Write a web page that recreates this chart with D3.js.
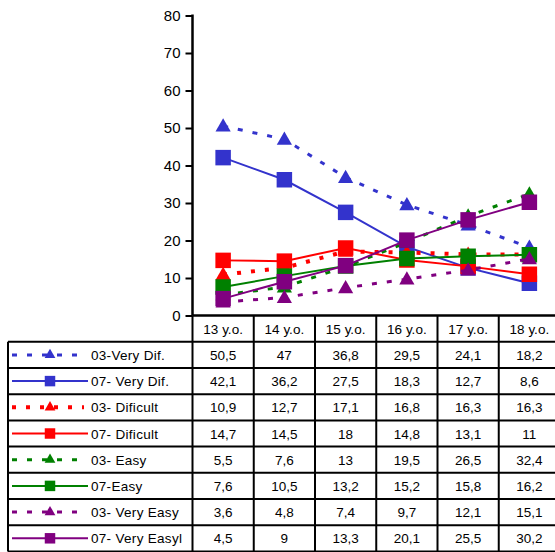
<!DOCTYPE html>
<html>
<head>
<meta charset="utf-8">
<script src="https://cdn.jsdelivr.net/npm/d3@7"></script>
<style>
  html, body { margin: 0; padding: 0; background: #fff; }
  svg { display: block; font-family: "Liberation Sans", Arial, sans-serif; }
</style>
</head>
<body>
<svg id="chart" width="555" height="552"></svg>
<script>
// Age groups along the x axis
const categories = ["13 y.o.", "14 y.o.", "15 y.o.", "16 y.o.", "17 y.o.", "18 y.o."];

// Percent of students per difficulty rating, survey 2003 vs 2007
const veryDif03  = [50.5, 47, 36.8, 29.5, 24.1, 18.2];
const veryDif07  = [42.1, 36.2, 27.5, 18.3, 12.7, 8.6];
const dificult03 = [10.9, 12.7, 17.1, 16.8, 16.3, 16.3];
const dificult07 = [14.7, 14.5, 18, 14.8, 13.1, 11];
const easy03     = [5.5, 7.6, 13, 19.5, 26.5, 32.4];
const easy07     = [7.6, 10.5, 13.2, 15.2, 15.8, 16.2];
const veryEasy03 = [3.6, 4.8, 7.4, 9.7, 12.1, 15.1];
const veryEasy07 = [4.5, 9, 13.3, 20.1, 25.5, 30.2];

const seriesNames = ["03-Very Dif.", "07- Very Dif.", "03- Dificult", "07- Dificult",
                     "03- Easy", "07-Easy", "03- Very Easy", "07- Very Easyl"];
const yTicks = [0, 10, 20, 30, 40, 50, 60, 70, 80];

const seriesValues = [veryDif03, veryDif07, dificult03, dificult07, easy03, easy07, veryEasy03, veryEasy07];
const seriesColors = ["#3333cc", "#3333cc", "#ff0000", "#ff0000", "#008000", "#008000", "#800080", "#800080"];
const seriesKind   = ["dash", "solid", "dot", "solid", "dash", "solid", "dash", "solid"];

const series = seriesNames.map((name, i) => ({
  name, values: seriesValues[i], color: seriesColors[i], kind: seriesKind[i],
  marker: seriesKind[i] === "solid" ? "square" : "triangle"
}));

const svg = d3.select("#chart");

const x = d3.scaleBand().domain(categories).range([192.5, 560]);
const y = d3.scaleLinear().domain([0, 80]).range([315.5, 15.5]);

function lineStyle(sel, kind) {
  if (kind === "solid") sel.attr("stroke-width", 2);
  else if (kind === "dash") sel.attr("stroke-width", 3).attr("stroke-dasharray", "5,10");
  else sel.attr("stroke-width", 4).attr("stroke-dasharray", "4,10");
}

const sym = {
  square: d3.symbol().type(d3.symbolSquare),
  triangle: d3.symbol().type(d3.symbolTriangle)
};

// Y axis
const yAxis = d3.axisLeft(y).tickValues(yTicks).tickSize(7).tickPadding(5);
const gy = svg.append("g").attr("transform", "translate(192.5,0)").call(yAxis);
gy.select(".domain").attr("stroke", "#000").attr("stroke-width", 2.5).attr("d", "M0,14.5V315.5");
gy.selectAll(".tick line").attr("stroke", "#000").attr("stroke-width", 2);
gy.selectAll(".tick text").attr("font-size", 15).attr("fill", "#000")
  .attr("font-family", "'Liberation Sans', Arial, sans-serif");

// Series lines and markers
const line = d3.line().x((d, i) => x(categories[i]) + x.bandwidth() / 2).y(d => y(d));
const gs = svg.append("g");
series.forEach(s => {
  const g = gs.append("g");
  g.append("path").attr("d", line(s.values)).attr("fill", "none").attr("stroke", s.color)
    .call(lineStyle, s.kind);
  g.selectAll("path.mk").data(s.values).join("path").attr("class", "mk")
    .attr("transform", (d, i) => `translate(${x(categories[i]) + x.bandwidth() / 2},${y(d) + (s.marker === "triangle" ? 1 : 0)})`)
    .attr("d", s.marker === "square" ? sym.square.size(240)() : sym.triangle.size(100)())
    .attr("fill", s.color);
});

// Data table below the plot
const rowTop = 315.5, headH = 26.3, rowH = 26.2;
const tableLeft = 8, tableRight = 560;
const tg = svg.append("g");
const rowY = i => rowTop + headH + i * rowH;

// header row labels
tg.selectAll("text.head").data(categories).join("text").attr("class", "head")
  .attr("x", d => x(d) + x.bandwidth() / 2).attr("y", rowTop + headH / 2 + 5)
  .attr("text-anchor", "middle").attr("font-size", 13.5).text(d => d);

// value cells
const fmt = v => String(v).replace(".", ",");
series.forEach((s, r) => {
  tg.selectAll(null).data(s.values).join("text")
    .attr("x", (d, i) => x(categories[i]) + x.bandwidth() / 2)
    .attr("y", rowY(r) + rowH / 2 + 5)
    .attr("text-anchor", "middle").attr("font-size", 13.5).text(d => fmt(d));

  // legend key: line sample, marker, name
  const ly = rowY(r) + rowH / 2;
  const lg = tg.append("g");
  lg.append("line").attr("x1", 12).attr("x2", s.kind === "solid" ? 88 : 84).attr("y1", ly).attr("y2", ly)
    .attr("stroke", s.color).call(lineStyle, s.kind);
  lg.append("path").attr("transform", `translate(50,${ly})`)
    .attr("d", s.marker === "square" ? sym.square.size(110)() : sym.triangle.size(50)())
    .attr("fill", s.color);
  lg.append("text").attr("x", 91).attr("y", ly + 5).attr("font-size", 13.5)
    .attr("letter-spacing", 0.3).text(s.name);
});

// grid lines of the table
const hLines = d3.range(0, series.length + 1).map(rowY);
tg.selectAll("line.h").data(hLines).join("line").attr("class", "h")
  .attr("x1", tableLeft).attr("x2", tableRight).attr("y1", d => d).attr("y2", d => d)
  .attr("stroke", "#000").attr("stroke-width", 2);
// x axis line / table top
tg.append("line").attr("x1", 192.5).attr("x2", tableRight).attr("y1", rowTop).attr("y2", rowTop)
  .attr("stroke", "#000").attr("stroke-width", 2.5);
// column separators
const vLines = categories.map(c => x(c)).concat([x.range()[1]]);
tg.selectAll("line.v").data(vLines).join("line").attr("class", "v")
  .attr("x1", d => d).attr("x2", d => d).attr("y1", rowTop).attr("y2", rowY(series.length))
  .attr("stroke", "#000").attr("stroke-width", 2);
tg.append("line").attr("x1", tableLeft).attr("x2", tableLeft).attr("y1", rowY(0)).attr("y2", rowY(series.length))
  .attr("stroke", "#000").attr("stroke-width", 2);
</script>
</body>
</html>
